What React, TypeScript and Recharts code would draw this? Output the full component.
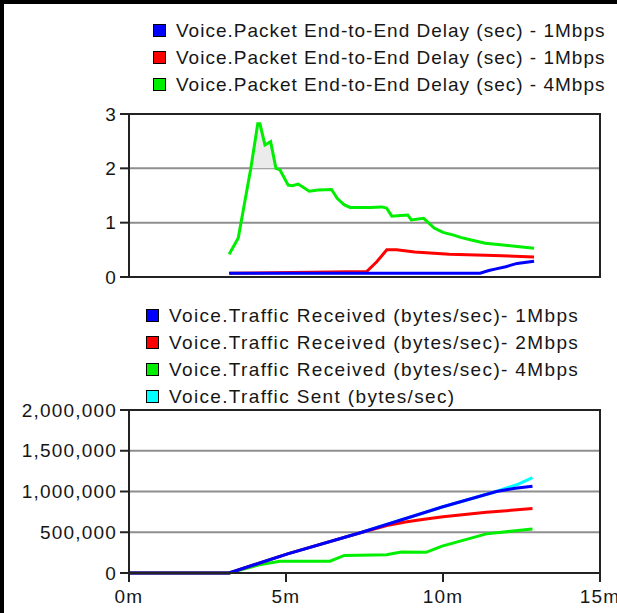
import React from 'react';
import {
  Area,
  CartesianGrid,
  ComposedChart,
  Line,
  LineChart,
  ReferenceArea,
  XAxis,
  YAxis,
} from 'recharts';

const FONT = '"Liberation Sans", Arial, Helvetica, sans-serif';
const TEXT = '#161616';
const FRAME = '#222';
const GRID = '#8e8e8e';

const BLUE = '#0000ff';
const RED = '#ff0000';
const GREEN = '#00ee00';
const CYAN = '#00ffff';

// time axis, minutes of simulation
const minuteTicks = [0, 5, 10, 15];

// ---- packet end-to-end delay (sec) ----
const delayTicks = [0, 1, 2, 3];

const delay1MbpsTime = [3.19, 11.18, 11.46, 11.69, 12.0, 12.36, 12.9];
const delay1MbpsSec = [0.07, 0.07, 0.12, 0.15, 0.19, 0.25, 0.29];

const delay1MbpsBTime = [3.19, 7.57, 7.89, 8.21, 8.52, 9.1, 10.2, 11.35, 12.9];
const delay1MbpsBSec = [0.07, 0.1, 0.28, 0.5, 0.5, 0.46, 0.42, 0.4, 0.37];

const delay4MbpsTime = [
  3.19, 3.48, 3.88, 4.1, 4.17, 4.33, 4.51, 4.68, 4.81, 5.07, 5.2, 5.39, 5.74, 6.03, 6.45, 6.63,
  6.85, 7.04, 7.68, 8.05, 8.2, 8.37, 8.65, 8.88, 8.99, 9.38, 9.55, 9.72, 10.0, 10.34, 10.56,
  10.9, 11.35, 11.91, 12.36, 12.9,
];
const delay4MbpsSec = [
  0.42, 0.72, 2.0, 2.82, 2.82, 2.43, 2.49, 2.0, 1.97, 1.69, 1.68, 1.71, 1.58, 1.6, 1.61, 1.45,
  1.33, 1.28, 1.28, 1.29, 1.27, 1.12, 1.13, 1.14, 1.05, 1.08, 0.99, 0.9, 0.82, 0.77, 0.73, 0.68,
  0.62, 0.59, 0.56, 0.53,
];

// ---- voice traffic (bytes/sec) ----
const trafficTicks = [0, 500000, 1000000, 1500000, 2000000];

const recv1MbpsTime = [0, 3.19, 5.05, 7.42, 9.97, 11.7, 12.3, 12.85];
const recv1MbpsBytes = [0, 0, 235000, 500000, 810000, 1000000, 1040000, 1065000];

const recv2MbpsTime = [0, 3.19, 5.05, 7.42, 8.3, 8.8, 9.4, 10.0, 11.38, 12.85];
const recv2MbpsBytes = [0, 0, 235000, 500000, 590000, 625000, 660000, 690000, 745000, 790000];

const recv4MbpsTime = [0, 3.19, 4.15, 4.8, 6.4, 6.86, 8.2, 8.67, 9.46, 9.97, 11.38, 12.85];
const recv4MbpsBytes = [
  0, 0, 100000, 145000, 145000, 215000, 225000, 258000, 254000, 330000, 480000, 540000,
];

const sentTime = [0, 3.19, 5.05, 7.42, 9.97, 11.7, 12.0, 12.4, 12.85];
const sentBytes = [0, 0, 235000, 500000, 810000, 1000000, 1040000, 1090000, 1170000];

const toPoints = (t: number[], v: number[]) => t.map((x, i) => ({ t: x, v: v[i] }));

type Series = { name: string; color: string; data: { t: number; v: number }[] };

const delaySeries: Series[] = [
  { name: 'Voice.Packet End-to-End Delay (sec) - 1Mbps', color: BLUE, data: toPoints(delay1MbpsTime, delay1MbpsSec) },
  { name: 'Voice.Packet End-to-End Delay (sec) - 1Mbps', color: RED, data: toPoints(delay1MbpsBTime, delay1MbpsBSec) },
  { name: 'Voice.Packet End-to-End Delay (sec) - 4Mbps', color: GREEN, data: toPoints(delay4MbpsTime, delay4MbpsSec) },
];

const trafficSeries: Series[] = [
  { name: 'Voice.Traffic Received (bytes/sec)- 1Mbps', color: BLUE, data: toPoints(recv1MbpsTime, recv1MbpsBytes) },
  { name: 'Voice.Traffic Received (bytes/sec)- 2Mbps', color: RED, data: toPoints(recv2MbpsTime, recv2MbpsBytes) },
  { name: 'Voice.Traffic Received (bytes/sec)- 4Mbps', color: GREEN, data: toPoints(recv4MbpsTime, recv4MbpsBytes) },
  { name: 'Voice.Traffic Sent (bytes/sec)', color: CYAN, data: toPoints(sentTime, sentBytes) },
];

// shaded band where the 4Mbps delay climbs over the 2 sec gridline
const delayPeakBand = toPoints(
  delay4MbpsTime,
  delay4MbpsSec.map((v) => Math.max(v, 2)),
);

const tickStyle = { fill: TEXT, fontSize: 19, fontFamily: FONT, letterSpacing: 1.2 };
const axisStroke = { stroke: FRAME, strokeWidth: 2 };

const LegendBlock: React.FC<{ items: Series[]; left: number; top: number; spacing: number }> = ({
  items,
  left,
  top,
  spacing,
}) => (
  <div style={{ position: 'absolute', left, top }}>
    {items.map((s, i) => (
      <div
        key={i}
        style={{
          display: 'flex',
          alignItems: 'center',
          height: 27,
          fontFamily: FONT,
          fontSize: 19,
          letterSpacing: spacing,
          color: TEXT,
          whiteSpace: 'nowrap',
        }}
      >
        <span
          style={{
            display: 'inline-block',
            width: 11,
            height: 11,
            background: s.color,
            border: '1px solid #000',
            marginRight: 10,
          }}
        />
        {s.name}
      </div>
    ))}
  </div>
);

// draw order: first entries end up underneath
const delayDrawOrder = [1, 2, 0];
const trafficDrawOrder = [3, 2, 1, 0];

export default function App() {
  return (
    <div
      style={{
        position: 'absolute',
        left: 0,
        top: 0,
        width: 617,
        height: 613,
        background: '#fff',
        overflow: 'hidden',
      }}
    >
      <LegendBlock items={delaySeries} left={153} top={17} spacing={1.0} />
      <div style={{ position: 'absolute', left: 0, top: 0 }}>
        <ComposedChart width={617} height={290} margin={{ top: 114, right: 17, bottom: 13, left: 0 }}>
          <CartesianGrid vertical={false} stroke={GRID} strokeWidth={2} />
          <XAxis type="number" dataKey="t" domain={[0, 15]} ticks={minuteTicks} hide />
          <YAxis
            type="number"
            domain={[0, 3]}
            ticks={delayTicks}
            interval={0}
            width={129}
            axisLine={axisStroke}
            tickLine={axisStroke}
            tickSize={9}
            tickMargin={3}
            tick={tickStyle}
          />
          <Area
            data={delayPeakBand}
            dataKey="v"
            type="linear"
            baseValue={2}
            fill="#ebebeb"
            fillOpacity={1}
            stroke="none"
            isAnimationActive={false}
          />
          <ReferenceArea x1={0} x2={15} y1={0} y2={3} fill="none" stroke={FRAME} strokeWidth={2} />
          {delayDrawOrder.map((i) => (
            <Line
              key={i}
              data={delaySeries[i].data}
              dataKey="v"
              type="linear"
              stroke={delaySeries[i].color}
              strokeWidth={3}
              dot={false}
              isAnimationActive={false}
            />
          ))}
        </ComposedChart>
      </div>

      <LegendBlock items={trafficSeries} left={146} top={302} spacing={1.35} />
      <div style={{ position: 'absolute', left: 0, top: 290 }}>
        <LineChart width={617} height={323} margin={{ top: 120, right: 17, bottom: 0, left: 0 }}>
          <CartesianGrid vertical={false} stroke={GRID} strokeWidth={2} />
          <XAxis
            type="number"
            dataKey="t"
            domain={[0, 15]}
            ticks={minuteTicks}
            interval={0}
            height={40}
            axisLine={axisStroke}
            tickLine={axisStroke}
            tickSize={9}
            tickMargin={8}
            tick={tickStyle}
            tickFormatter={(v: number) => `${v}m`}
          />
          <YAxis
            type="number"
            domain={[0, 2000000]}
            ticks={trafficTicks}
            interval={0}
            width={129}
            axisLine={axisStroke}
            tickLine={axisStroke}
            tickSize={9}
            tickMargin={3}
            tick={tickStyle}
            tickFormatter={(v: number) => v.toLocaleString('en-US')}
          />
          <ReferenceArea x1={0} x2={15} y1={0} y2={2000000} fill="none" stroke={FRAME} strokeWidth={2} />
          {trafficDrawOrder.map((i) => (
            <Line
              key={i}
              data={trafficSeries[i].data}
              dataKey="v"
              type="linear"
              stroke={trafficSeries[i].color}
              strokeWidth={3}
              dot={false}
              isAnimationActive={false}
            />
          ))}
        </LineChart>
      </div>

      {/* heavy frame on the left and top edges */}
      <div
        style={{
          position: 'absolute',
          left: 0,
          top: 0,
          width: 617,
          height: 613,
          boxSizing: 'border-box',
          borderLeft: '4px solid #000',
          borderTop: '4px solid #000',
          pointerEvents: 'none',
        }}
      />
    </div>
  );
}
